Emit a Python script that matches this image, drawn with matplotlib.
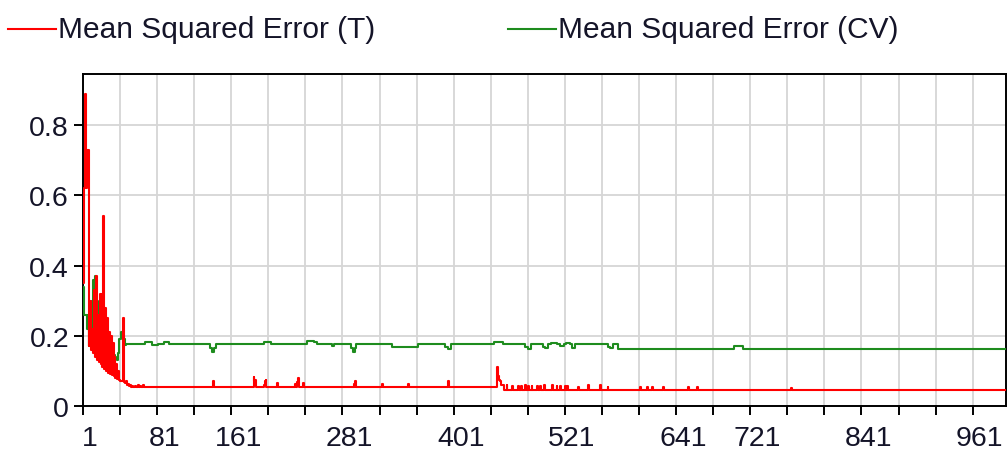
import matplotlib
matplotlib.use('Agg')
import matplotlib.pyplot as plt
from matplotlib.lines import Line2D
from matplotlib.transforms import ScaledTranslation

plt.rcParams['font.family'] = ['Liberation Sans', 'DejaVu Sans']

# first iterations, one value per iteration
early_iter = list(range(1, 71))
train_early = [0.35, 0.62, 0.89, 0.62, 0.73, 0.73, 0.37, 0.17, 0.30, 0.16,
               0.22, 0.15, 0.33, 0.14, 0.37, 0.13, 0.26, 0.125, 0.32, 0.12,
               0.32, 0.11, 0.54, 0.105, 0.28, 0.10, 0.25, 0.095, 0.21, 0.09,
               0.20, 0.088, 0.18, 0.085, 0.14, 0.08, 0.12, 0.078, 0.10, 0.075,
               0.072, 0.07, 0.07, 0.25, 0.068, 0.065, 0.07, 0.063, 0.06, 0.062,
               0.058, 0.06, 0.055, 0.058, 0.054, 0.054, 0.058, 0.054, 0.054, 0.06,
               0.054, 0.054, 0.058, 0.054, 0.054, 0.06, 0.054, 0.054, 0.054, 0.054]
cv_early = [0.34, 0.26, 0.26, 0.26, 0.22, 0.26, 0.17, 0.25, 0.28, 0.20,
            0.30, 0.36, 0.22, 0.37, 0.20, 0.30, 0.19, 0.24, 0.17, 0.21,
            0.16, 0.19, 0.15, 0.17, 0.15, 0.155, 0.15, 0.155, 0.15, 0.17,
            0.15, 0.155, 0.145, 0.145, 0.14, 0.14, 0.135, 0.13, 0.15, 0.19,
            0.19, 0.21, 0.21, 0.20, 0.19, 0.175, 0.176, 0.176, 0.176, 0.176,
            0.176, 0.176, 0.176, 0.176, 0.176, 0.176, 0.176, 0.176, 0.176, 0.176,
            0.176, 0.176, 0.176, 0.176, 0.176, 0.176, 0.176, 0.181, 0.181, 0.181]

# later on both curves are flat with a few blips: change points (value holds until next one)
train_late_iter = [71, 141, 142, 185, 186, 187, 188, 196, 197, 198, 199, 210, 211,
                   230, 231, 232, 233, 234, 238, 239, 293, 294, 295, 296, 324, 325,
                   352, 353, 395, 396, 448, 449, 450, 451, 452, 455,
                   458, 459, 464, 465, 470, 471, 474, 475, 478, 479, 481, 482,
                   485, 486, 491, 492, 494, 495, 499, 500, 507, 508, 512, 513,
                   516, 517, 521, 522, 523, 524, 535, 536, 546, 547, 559, 560,
                   567, 568, 602, 603, 610, 611, 615, 616, 627, 628, 654, 655,
                   664, 665, 765, 766, 997]
train_late = [0.054, 0.071, 0.054, 0.083, 0.07, 0.075, 0.054, 0.06, 0.07, 0.075, 0.054, 0.065, 0.054,
              0.062, 0.054, 0.068, 0.08, 0.054, 0.065, 0.054, 0.062, 0.054, 0.072, 0.054, 0.064, 0.054,
              0.064, 0.054, 0.072, 0.054, 0.11, 0.085, 0.075, 0.07, 0.06, 0.047,
              0.06, 0.047, 0.058, 0.047, 0.057, 0.047, 0.058, 0.047, 0.06, 0.047, 0.058, 0.047,
              0.057, 0.047, 0.058, 0.047, 0.057, 0.047, 0.06, 0.047, 0.06, 0.047, 0.057, 0.047,
              0.058, 0.047, 0.057, 0.047, 0.058, 0.047, 0.055, 0.047, 0.06, 0.047, 0.06, 0.047,
              0.055, 0.047, 0.053, 0.047, 0.053, 0.047, 0.053, 0.047, 0.053, 0.047, 0.053, 0.047,
              0.053, 0.047, 0.052, 0.047, 0.047]

cv_late_iter = [71, 75, 82, 88, 94, 138, 140, 142, 144, 196, 204, 243, 250, 254,
                270, 272, 290, 292, 294, 296, 334, 362, 392, 395, 398, 445, 454,
                478, 481, 484, 497, 500, 503, 506, 513, 516, 520, 522, 526, 529, 532,
                567, 570, 573, 578, 704, 713, 997]
cv_late = [0.181, 0.174, 0.176, 0.181, 0.176, 0.165, 0.154, 0.165, 0.176, 0.183, 0.176, 0.185, 0.183, 0.176,
           0.17, 0.176, 0.165, 0.154, 0.165, 0.176, 0.168, 0.176, 0.168, 0.162, 0.176, 0.183, 0.176,
           0.168, 0.163, 0.176, 0.168, 0.165, 0.176, 0.18, 0.176, 0.17, 0.176, 0.18, 0.176, 0.165, 0.176,
           0.168, 0.165, 0.176, 0.162, 0.171, 0.162, 0.162]

x_ticks = list(range(1, 962, 40))
x_labeled = [1, 81, 161, 281, 401, 521, 641, 721, 841, 961]
y_ticks = [0, 0.2, 0.4, 0.6, 0.8]
y_labels = ['0', '0.2', '0.4', '0.6', '0.8']

W, H = 1008, 452
fig = plt.figure(figsize=(W / 100, H / 100), dpi=100)
ax = fig.add_axes([83 / W, (H - 407) / H, (1006 - 83) / W, (407 - 75) / H])

red = '#ff0000'
green = '#1e8c1e'
ax.plot(early_iter + cv_late_iter, cv_early + cv_late, color=green, lw=1.5,
        drawstyle='steps-post', zorder=3)
ax.plot(early_iter + train_late_iter, train_early + train_late, color=red, lw=1.5,
        drawstyle='steps-post', zorder=4)

ax.set_xlim(1, 997)
ax.set_ylim(0, 0.946)
ax.set_xticks(x_ticks)
ax.set_xticklabels([str(t) if t in x_labeled else '' for t in x_ticks])
ax.set_yticks(y_ticks)
ax.set_yticklabels(y_labels)
ax.grid(True, color='#d6d6d6', lw=1.3, zorder=0)
ax.set_axisbelow(True)
for s in ax.spines.values():
    s.set_color('black')
    s.set_linewidth(1.4)
ax.tick_params(axis='both', direction='out', length=6.5, width=1.4,
               colors='black', labelcolor='#141428', labelsize=20.5)
ax.tick_params(axis='x', pad=7)
ax.tick_params(axis='y', pad=3.5)

# the reference draws x labels a bit to the right of their ticks
shift = ScaledTranslation(7 / 100, 0, fig.dpi_scale_trans)
for lab in ax.get_xticklabels():
    lab.set_transform(lab.get_transform() + shift)

# legend above the plot
ly = 1 - 30 / H
fig.add_artist(Line2D([8 / W, 56 / W], [ly, ly], color=red, lw=1.5, transform=fig.transFigure))
fig.text(58 / W, ly, 'Mean Squared Error (T)', fontsize=21.5, color='#141428', va='center')
fig.add_artist(Line2D([508 / W, 556 / W], [ly, ly], color=green, lw=1.5, transform=fig.transFigure))
fig.text(558 / W, ly, 'Mean Squared Error (CV)', fontsize=21.5, color='#141428', va='center')

fig.savefig('out.png', dpi=100)
